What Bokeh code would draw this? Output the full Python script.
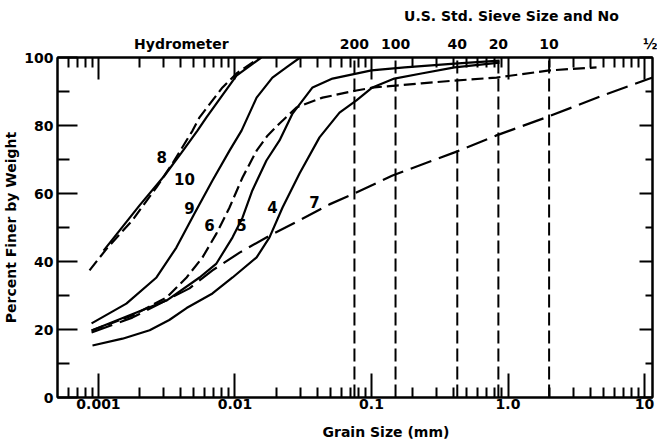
import json
from bokeh.plotting import figure
from bokeh.models import (FixedTicker, LinearAxis, LogAxis, Range1d,
                          CustomJSTickFormatter)
from bokeh.core.properties import value
from bokeh.embed import file_html
from bokeh.resources import INLINE

FONT = "DejaVu Sans"

# ---------------- data (grain size in mm, percent finer) ----------------
c4_d = [0.000904, 0.0015, 0.00237, 0.0033, 0.00442, 0.00684, 0.0096, 0.0144,
        0.0179, 0.0223, 0.0297, 0.0416, 0.0583, 0.0776, 0.1016, 0.147, 0.232,
        0.406, 0.867]
c4_p = [15.3, 17.3, 19.8, 22.8, 26.3, 30.6, 35.3, 41.2, 47.1, 55.9, 65.9, 76.5,
        83.8, 87.4, 91.2, 93.8, 95.3, 97.1, 98.5]

c5_d = [0.00089, 0.00315, 0.0055, 0.00731, 0.0096, 0.01135, 0.0134, 0.017,
        0.0212, 0.0264, 0.037, 0.0518, 0.1, 0.175, 0.406, 0.867]
c5_p = [19.7, 28.5, 35.3, 39.4, 47.1, 52.9, 60.9, 69.7, 75.6, 83.5, 91.2, 93.8,
        96.2, 97.1, 98.2, 99.1]

c6_d = [0.00089, 0.00177, 0.00315, 0.00442, 0.00578, 0.00731, 0.00912, 0.01135,
        0.0144, 0.0173, 0.0212, 0.0282, 0.0438, 0.0776, 0.105, 0.232, 0.406,
        0.824, 2.01, 4.45]
c6_p = [19.7, 24.1, 29.4, 35.3, 41.2, 48.2, 55.9, 64.7, 72.6, 77.0, 80.6, 85.3,
        88.2, 90.3, 91.2, 92.4, 93.2, 94.1, 96.2, 97.1]

c7_d = [0.00089, 0.00177, 0.0028, 0.00464, 0.00684, 0.0108, 0.0179, 0.0297,
        0.0492, 0.075, 0.1426, 0.406, 0.824, 1.91, 4.92, 11.45]
c7_p = [19.1, 23.5, 27.6, 32.1, 37.4, 42.6, 47.6, 52.1, 56.8, 60.0, 65.3, 72.1,
        77.1, 82.4, 88.8, 94.1]

c8_d = [0.00086, 0.00115, 0.00177, 0.00266, 0.00348, 0.00489, 0.0055, 0.0081,
        0.01026, 0.0152]
c8_p = [37.4, 43.8, 52.1, 61.8, 68.8, 78.5, 82.4, 91.2, 95.3, 100.0]

c9_d = [0.00089, 0.0016, 0.00266, 0.00372, 0.00505, 0.00684, 0.00912, 0.01117,
        0.0144, 0.0188, 0.0238, 0.030]
c9_p = [21.8, 27.6, 35.3, 44.1, 54.1, 63.8, 72.6, 78.5, 88.2, 94.1, 97.1, 100.0]

c10_d = [0.00109, 0.0020, 0.00305, 0.00406, 0.00531, 0.00618, 0.01026, 0.0156]
c10_p = [43.2, 56.5, 65.3, 72.0, 78.5, 82.4, 94.7, 100.0]

curve_names = ["8", "10", "9", "6", "5", "4", "7"]
curve_label_d = [0.0029, 0.00427, 0.00464, 0.0065, 0.01117, 0.0188, 0.0382]
curve_label_p = [70.6, 64.4, 55.6, 50.6, 50.6, 55.9, 57.4]

sieve_no = ["200", "100", "40", "20", "10"]
sieve_mm = [0.075, 0.15, 0.425, 0.85, 2.0]

top_label_x = [0.00405] + sieve_mm + [11.2]
top_label_t = ["Hydrometer"] + sieve_no + ["\u00bd"]

x_ticks = [0.001, 0.01, 0.1, 1.0, 10.0]
x_minor = ([m * 1e-4 for m in (6, 7, 8, 9)] +
           [m * 1e-3 for m in range(2, 10)] + [m * 1e-2 for m in range(2, 10)] +
           [m * 1e-1 for m in range(2, 10)] + [float(m) for m in range(2, 10)])
y_ticks = [0, 20, 40, 60, 80, 100]
y_minor = [10, 30, 50, 70, 90]

# ---------------- figure ----------------
p = figure(frame_width=595, frame_height=340, x_axis_type="log",
           x_range=Range1d(0.000501, 11.44), y_range=Range1d(0, 100),
           output_backend="svg", toolbar_location=None,
           min_border_left=50, min_border_top=0, min_border_right=5,
           min_border_bottom=0)
p.xgrid.grid_line_color = None
p.ygrid.grid_line_color = None
p.outline_line_color = "black"
p.outline_line_width = 2
p.background_fill_color = "white"
p.border_fill_color = "white"

TXT = "14px"


def style_axis(ax, maj_in, min_in, label_size=TXT):
    ax.axis_line_width = 2
    ax.axis_line_color = "black"
    ax.major_tick_in = maj_in
    ax.major_tick_out = 0
    ax.minor_tick_in = min_in
    ax.minor_tick_out = 0
    ax.major_tick_line_width = 2
    ax.minor_tick_line_width = 2
    ax.major_tick_line_color = "black"
    ax.minor_tick_line_color = "black"
    ax.major_label_text_font = FONT
    ax.major_label_text_font_size = label_size
    ax.major_label_text_font_style = "bold"
    ax.major_label_text_color = "black"


def label_only_axis(cls, positions, texts, standoff, size=TXT):
    code = ("const xs = %s; const ls = %s;"
            "for (let i = 0; i < xs.length; i++) {"
            "  if (Math.abs(tick - xs[i]) <= 1e-9 * Math.max(1, Math.abs(xs[i]))) return ls[i];"
            "}"
            "return '';") % (json.dumps(positions), json.dumps(texts))
    ax = cls(ticker=FixedTicker(ticks=positions, minor_ticks=[]),
             formatter=CustomJSTickFormatter(code=code))
    ax.axis_line_color = None
    ax.major_tick_line_color = None
    ax.minor_tick_line_color = None
    ax.major_tick_in = 0
    ax.major_tick_out = 0
    ax.minor_tick_in = 0
    ax.minor_tick_out = 0
    ax.major_label_standoff = standoff
    ax.major_label_text_font = FONT
    ax.major_label_text_font_size = size
    ax.major_label_text_font_style = "bold"
    ax.major_label_text_color = "black"
    return ax


# bottom axis
xb = p.xaxis[0]
xb.ticker = FixedTicker(ticks=x_ticks, minor_ticks=x_minor)
xb.formatter = CustomJSTickFormatter(
    code="return (Math.abs(tick - 1) < 1e-9) ? '1.0' : tick.toString();")
style_axis(xb, 24, 10)
xb.major_label_standoff = 1

# x title as a second bottom axis (offset to the right like the original)
p.add_layout(label_only_axis(LogAxis, [0.133], ["Grain Size  (mm)"], 12), "below")

# left axis
yl = p.yaxis[0]
yl.ticker = FixedTicker(ticks=y_ticks, minor_ticks=y_minor)
style_axis(yl, 20, 12)
yl.major_label_standoff = 4
yl.axis_label = "Percent Finer by Weight"
yl.axis_label_text_font = FONT
yl.axis_label_text_font_size = TXT
yl.axis_label_text_font_style = "bold"
yl.axis_label_text_color = "black"
yl.axis_label_standoff = 2

# top tick axis
xt = LogAxis(ticker=FixedTicker(ticks=x_ticks, minor_ticks=x_minor),
             formatter=CustomJSTickFormatter(code="return '';"))
style_axis(xt, 22, 10, "0px")
xt.major_label_standoff = 0
p.add_layout(xt, "above")

# top label rows
p.add_layout(label_only_axis(LogAxis, top_label_x, top_label_t, 6), "above")
p.add_layout(label_only_axis(LogAxis, [1.06], ["U.S. Std. Sieve Size and No"], 9),
             "above")
# small blank spacer above the top row
p.add_layout(label_only_axis(LogAxis, [1.06], ["\u00a0"], 0, size="1px"), "above")

# right axis
yr = LinearAxis(ticker=FixedTicker(ticks=y_ticks, minor_ticks=y_minor),
                formatter=CustomJSTickFormatter(code="return '';"))
style_axis(yr, 13, 7, "0px")
yr.major_label_standoff = 0
p.add_layout(yr, "right")

# ---------------- sieve lines ----------------
p.segment(x0=sieve_mm, y0=0, x1=sieve_mm, y1=100, line_color="black",
          line_width=2, line_dash="13 5")

# ---------------- curves ----------------
solid = dict(line_color="black", line_width=2.2)
p.line(c4_d, c4_p, **solid)
p.line(c5_d, c5_p, **solid)
p.line(c9_d, c9_p, **solid)
p.line(c10_d, c10_p, **solid)
p.line(c6_d, c6_p, line_dash="12 5", **solid)
p.line(c8_d, c8_p, line_dash="12 5", **solid)
p.line(c7_d, c7_p, line_dash="22 8", **solid)

p.text(x=curve_label_d, y=curve_label_p, text=curve_names,
       text_font=value(FONT), text_font_size="15px", text_font_style="bold",
       text_color="black", text_align="center", text_baseline="middle")

open("out.html", "w").write(file_html(p, INLINE))
